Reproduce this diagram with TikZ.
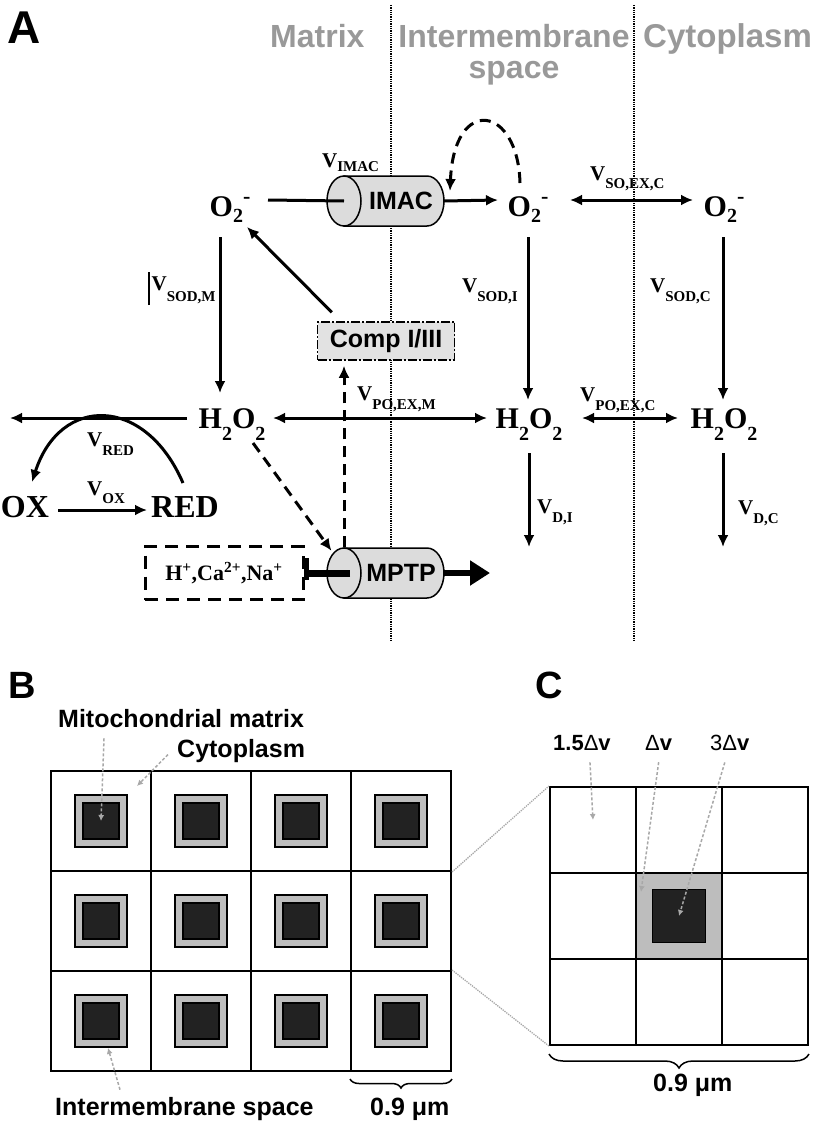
\documentclass[tikz,border=0pt]{standalone}
\usepackage{fontspec}
\setmainfont{Liberation Serif}
\setsansfont{Liberation Sans}
\usetikzlibrary{arrows.meta,shapes.geometric,decorations.pathreplacing,calc}

\definecolor{regiongray}{HTML}{999999}
\definecolor{chanfill}{HTML}{DCDCDC}
\definecolor{compfill}{HTML}{E2E2E2}
\definecolor{imsgray}{HTML}{BDBDBD}
\definecolor{matrixblack}{HTML}{222222}
\definecolor{notegray}{HTML}{A8A8A8}

\newcommand{\fsz}[1]{\fontsize{#1}{#1}\selectfont}
% lowered indices for species and rates
\newcommand{\ssub}[2][6pt]{\raisebox{-#1}{\fsz{20}#2}}
\newcommand{\ssup}[1]{\raisebox{13pt}{\fsz{22}#1}}
\newcommand{\rsub}[2][9pt]{\raisebox{-#1}{\fsz{15}#2}}

% cylinder-shaped channel: name, centre of the front face, label
\newcommand{\channel}[3]{%
  \begin{scope}[shift={#2}]
    \filldraw[chanbody] (0,-25) -- (83,-25) arc[start angle=-90,end angle=90,x radius=17,y radius=25] -- (0,25) -- cycle;
    \node[chanface] (#1 face) at (0,0) {};
    \node[chanlabel] (#1) at (57,0) {#3};
    \coordinate (#1 out) at (100,0);
  \end{scope}}

\tikzset{
  species/.style={font=\bfseries\fsz{30}, inner sep=0pt, anchor=base},
  rate/.style={font=\bfseries\fsz{21}, inner sep=0pt, anchor=base west},
  region/.style={font=\sffamily\bfseries\fsz{32}, text=regiongray, inner sep=0pt},
  panel/.style={font=\sffamily\bfseries\fsz{#1}, inner sep=0pt, anchor=base west},
  flux/.style={line width=3pt},
  react/.style={flux, -{Latex[length=12pt,width=11pt]}},
  exch/.style={flux, {Latex[length=12pt,width=11pt]}-{Latex[length=12pt,width=11pt]}},
  regul/.style={react, dash pattern=on 11pt off 7pt},
  membrane/.style={line width=1.3pt, densely dotted},
  chanbody/.style={fill=chanfill, line width=1.5pt},
  chanface/.style={ellipse, draw, fill=chanfill, line width=1.5pt, minimum width=34pt, minimum height=50pt, inner sep=0pt},
  chanlabel/.style={font=\sffamily\bfseries\fsz{25}, inner sep=0pt},
  compbox/.style={draw, fill=compfill, line width=1.5pt, dash pattern=on 9pt off 2pt on 2pt off 2pt, minimum width=137pt, minimum height=38pt, inner sep=0pt, font=\sffamily\bfseries\fsz{25}},
  ionbox/.style={draw, line width=3pt, dash pattern=on 13pt off 8pt, minimum width=158pt, minimum height=53pt, inner sep=0pt, font=\bfseries\fsz{22}},
  cell/.style={draw, line width=2pt, minimum size=#1, inner sep=0pt},
  ims/.style={draw, fill=imsgray, line width=1.8pt, minimum size=#1, inner sep=0pt},
  mx/.style={draw, fill=matrixblack, line width=1.8pt, minimum size=#1, inner sep=0pt},
  notelabel/.style={font=\sffamily\bfseries\fsz{25}, inner sep=0pt, anchor=base west},
  clabel/.style={font=\sffamily\fsz{22}, inner sep=0pt, anchor=base west},
  note/.style={draw=notegray, line width=1.5pt, densely dashed, -{Latex[length=6pt,width=6pt]}},
  zoomline/.style={draw=notegray, line width=1.3pt, densely dotted},
  brace/.style={decorate, decoration={brace, mirror, amplitude=#1}, line width=1.5pt}
}

\begin{document}
\begin{tikzpicture}[x=1pt,y=-1pt]
  \path[use as bounding box] (0,0) rectangle (819,1121);

  % Panel A
  \node[panel=46] (pa) at (7,44) {A};
  \draw[membrane] (391,5) -- (391,640);
  \draw[membrane] (634,5) -- (634,640);
  \node[region, anchor=base west] (rmatrix) at (270,48) {Matrix};
  \node[region, anchor=north, align=center, font=\sffamily\bfseries\fontsize{32}{31}\selectfont] (rims) at (514,24) {Intermembrane\\space};
  \node[region, anchor=base west, font=\sffamily\bfseries\fsz{33}] (rcyto) at (643,48) {Cytoplasm};

  % Species
  \node[species] (o2m) at (230,216) {O\ssub{2}\ssup{-}};
  \node[species] (o2i) at (528,216) {O\ssub{2}\ssup{-}};
  \node[species] (o2c) at (724,216) {O\ssub{2}\ssup{-}};
  \node[species] (h2o2m) at (232,428) {H\ssub[12pt]{2}O\ssub[12pt]{2}};
  \node[species] (h2o2i) at (529,428) {H\ssub[12pt]{2}O\ssub[12pt]{2}};
  \node[species] (h2o2c) at (724,428) {H\ssub[12pt]{2}O\ssub[12pt]{2}};
  \node[species, font=\bfseries\fsz{32}] (ox) at (25,517) {OX};
  \node[species, font=\bfseries\fsz{32}] (red) at (185,517) {RED};

  % Channels and boxes
  \channel{imac}{(344,201)}{IMAC}
  \channel{mptp}{(344,573)}{MPTP}
  \node[compbox] (comp) at (386,341) {Comp I/III};
  \node[ionbox] (ions) at (224,573) {H\textsuperscript{+},Ca\textsuperscript{2+},Na\textsuperscript{+}};
  \coordinate (sink) at (10,418);
  \coordinate (di) at (529,547);
  \coordinate (dc) at (723,547);
  \coordinate (release) at (490,573);

  % Rate labels
  \node[rate] (vimac) at (322,167) {V\rsub[5pt]{IMAC}};
  \node[rate] (vsoexc) at (590,180) {V\rsub[8pt]{SO,EX,C}};
  \node[rate] (vsodm) at (148,290) {\rule[-15pt]{1.5pt}{33pt}\hspace{2pt}V\rsub[11pt]{SOD,M}};
  \node[rate] (vsodi) at (462,292) {V\rsub{SOD,I}};
  \node[rate] (vsodc) at (650,292) {V\rsub{SOD,C}};
  \node[rate] (vpoexm) at (357,400) {V\rsub{PO,EX,M}};
  \node[rate] (vpoexc) at (580,401) {V\rsub{PO,EX,C}};
  \node[rate] (vred) at (87,446) {V\rsub{RED}};
  \node[rate] (vox) at (87,495) {V\rsub[8pt]{OX}};
  \node[rate] (vdi) at (537,513) {V\rsub{D,I}};
  \node[rate] (vdc) at (738,514) {V\rsub{D,C}};

  % Arrows
  \draw[flux] ([shift={(38pt,16pt)}]o2m.base) -- (imac face.center);
  \draw[react] (imac out) -- ([shift={(-30pt,16pt)}]o2i.base);
  \draw[exch] ([shift={(42pt,16pt)}]o2i.base) -- ([shift={(-31pt,16pt)}]o2c.base);
  \draw[regul] ([shift={(-8pt,33pt)}]o2i.base) .. controls +(-2,-78) and +(4,-96) .. ([xshift=6pt,yshift=10pt]imac out);
  \draw[react] ([shift={(-10pt,-21pt)}]o2m.base) -- ([shift={(-12pt,35pt)}]h2o2m.base);
  \draw[react] ([shift={(0pt,-21pt)}]o2i.base) -- ([shift={(-1pt,28pt)}]h2o2i.base);
  \draw[react] ([shift={(-1pt,-21pt)}]o2c.base) -- ([shift={(-1pt,28pt)}]h2o2c.base);
  \draw[react] ([shift={(15pt,9pt)}]comp.north west) -- ([shift={(17pt,-11pt)}]o2m.base);
  \draw[react] ([shift={(-45pt,10pt)}]h2o2m.base) -- (sink);
  \draw[exch] ([shift={(41pt,10pt)}]h2o2m.base) -- ([shift={(-42pt,10pt)}]h2o2i.base);
  \draw[exch] ([shift={(53pt,10pt)}]h2o2i.base) -- ([shift={(-46pt,10pt)}]h2o2c.base);
  \draw[react] ([shift={(0pt,-25pt)}]h2o2i.base) -- (di);
  \draw[react] ([shift={(-1pt,-25pt)}]h2o2c.base) -- (dc);
  \draw[react] ([shift={(33pt,7pt)}]ox.base) -- ([shift={(-38pt,7pt)}]red.base);
  \draw[react] ([shift={(-2pt,34pt)}]red.base) .. controls (145,395) and (60,395) .. ([shift={(7pt,35pt)}]ox.base);
  \draw[regul] ([shift={(21pt,-15pt)}]h2o2m.base) -- ([yshift=4pt]mptp face.north west);
  \draw[regul, shorten >=5pt] (mptp face.north) -- (mptp face.north |- comp.south);
  \draw[line width=6pt, -{Triangle[length=20pt,width=24pt]}] (mptp out) -- (release);
  \draw[line width=7pt] ([xshift=6pt]mptp face.center) -- ([xshift=2pt]ions.east);
  \draw[line width=5pt] ([shift={(2pt,15pt)}]ions.east) -- ([shift={(2pt,-7pt)}]ions.east);

  % Panel B
  \node[panel=38] (pb) at (8,698) {B};
  \foreach \c in {0,...,3}
    \foreach \r in {0,...,2} {
      \node[cell=100pt] (b-\c-\r) at ({101+100*\c},{821+100*\r}) {};
      \node[ims=52pt] (b-\c-\r-ims) at (b-\c-\r) {};
      \node[mx=36pt] (b-\c-\r-mx) at (b-\c-\r) {};
    }
  \node[notelabel] (mmlabel) at (58,727) {Mitochondrial matrix};
  \node[notelabel] (cytolabel) at (177,757) {Cytoplasm};
  \node[notelabel] (imslabel) at (55,1115) {Intermembrane space};
  \node[notelabel] (bdim) at (370,1115) {0.9 μm};
  \coordinate (cytotip) at ($(b-0-0.north east)+(-15,16)$);
  \draw[note] ($(mmlabel.south west)+(46,11)$) -- (b-0-0-mx.center);
  \draw[note] ($(cytolabel.west)+(-9,4)$) -- (cytotip);
  \draw[note] ($(imslabel.north west)+(65,-7)$) -- ([xshift=7pt]b-0-2-ims.south);
  \draw[brace=9pt] ([yshift=-7pt]b-3-2.south west) -- ([yshift=-7pt]b-3-2.south east);

  % Panel C
  \node[panel=38] (pc) at (535,698) {C};
  \node[cell=86pt, fill=imsgray] (c-ims) at (679,916) {};
  \foreach \c in {0,1,2}
    \foreach \r in {0,1,2}
      \node[cell=86pt] (c-\c-\r) at ({593+86*\c},{830+86*\r}) {};
  \node[mx=53pt] (c-mx) at (c-1-1) {};
  \node[clabel] (dvlarge) at (553,750) {\textbf{1.5}Δ\textbf{v}};
  \node[clabel] (dvunit) at (645,750) {Δ\textbf{v}};
  \node[clabel] (dvmx) at (710,750) {3Δ\textbf{v}};
  \node[notelabel] (cdim) at (653,1091) {0.9 μm};
  \draw[note] ($(dvlarge.south)+(8,12)$) -- ([yshift=10pt]c-0-0.center);
  \draw[note] ($(dvunit.south)+(0,12)$) -- ([shift={(6pt,-20pt)}]c-ims.north west);
  \draw[note] ($(dvmx.south)+(-5,12)$) -- (c-mx.center);
  \draw[brace=14pt] ([yshift=-8pt]c-0-2.south west) -- ([yshift=-8pt]c-2-2.south east);

  % Zoom lines between B and C
  \draw[zoomline] (b-3-0.south east) -- (c-0-0.north west);
  \draw[zoomline] (b-3-2.north east) -- (c-0-2.south west);
\end{tikzpicture}
\end{document}
